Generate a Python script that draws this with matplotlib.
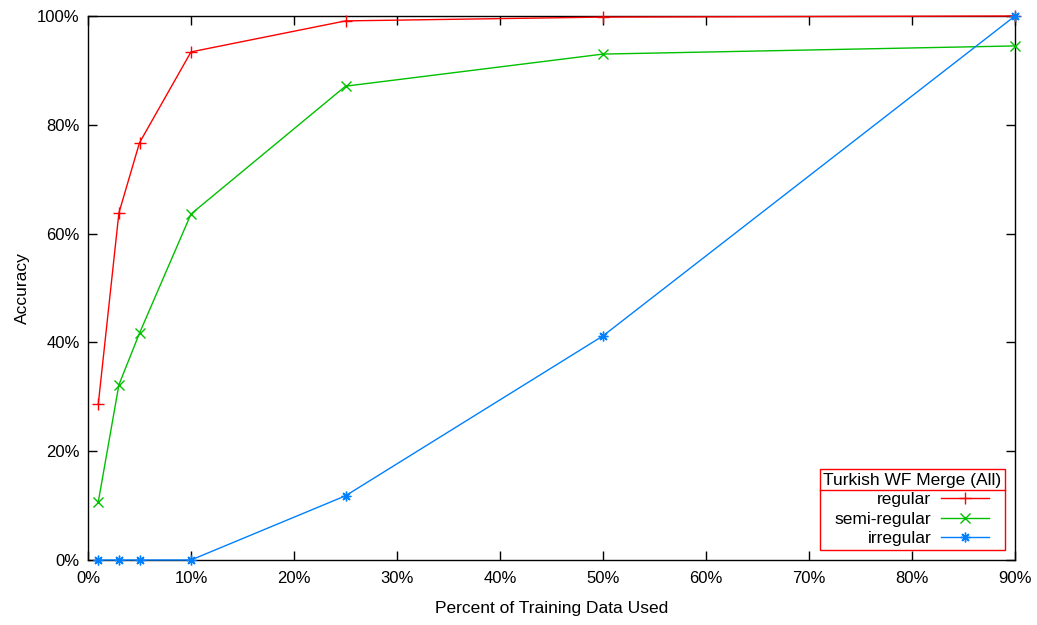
import numpy as np
import matplotlib
matplotlib.use('Agg')
import matplotlib.pyplot as plt
from matplotlib.lines import Line2D
from matplotlib.ticker import FuncFormatter

plt.rcParams['font.family'] = ['Liberation Sans', 'DejaVu Sans']

# percent of training data used
train_pct = [1, 3, 5, 10, 25, 50, 90]

regular = [28.7, 63.8, 76.7, 93.4, 99.1, 99.8, 100.0]
semi_regular = [10.7, 32.2, 41.7, 63.6, 87.1, 93.0, 94.5]
irregular = [0.0, 0.0, 0.0, 0.0, 11.8, 41.2, 100.0]

series_names = ['regular', 'semi-regular', 'irregular']
legend_title = 'Turkish WF Merge (All)'

x_ticks = [0, 10, 20, 30, 40, 50, 60, 70, 80, 90]
y_ticks = [0, 20, 40, 60, 80, 100]

fig = plt.figure(figsize=(10.37, 6.25), dpi=100)
ax = fig.add_axes([88 / 1037, 65 / 625, 927 / 1037, 544 / 625])

styles = [
	('#ff0000', '+', 8),
	('#00c000', 'x', 7),
	('#0080ff', (8, 2, 0), 7),
]

for vals, name, (col, mk, ms) in zip([regular, semi_regular, irregular], series_names, styles):
	ax.plot(train_pct, vals, color=col, marker=mk, markersize=ms, markeredgewidth=1.0,
			linewidth=1.0, label=name, clip_on=False, zorder=3)

ax.set_xlim(0, 90)
ax.set_ylim(0, 100)
ax.set_xticks(x_ticks)
ax.set_yticks(y_ticks)
pct = FuncFormatter(lambda v, p: '{0:d}%'.format(int(round(v))))
ax.xaxis.set_major_formatter(pct)
ax.yaxis.set_major_formatter(pct)

ax.tick_params(direction='in', length=6.5, width=1.0, top=True, right=True,
			   labelsize=12)
ax.tick_params(axis='x', pad=8)
ax.tick_params(axis='y', pad=6)
for s in ax.spines.values():
	s.set_linewidth(1.0)

ax.set_xlabel('Percent of Training Data Used', fontsize=12.5, labelpad=11)
ax.set_ylabel('Accuracy', fontsize=12.5, labelpad=5)

leg = ax.legend(loc='lower right', title=legend_title, markerfirst=False,
				fancybox=False, edgecolor='#ff0000', framealpha=1.0,
				fontsize=12.5, title_fontsize=12.5, borderaxespad=0.6,
				handlelength=2.8, handletextpad=0.55, labelspacing=0.25,
				borderpad=0.2)
leg.get_frame().set_linewidth(1.0)

# separator between the legend title and its entries
fig.canvas.draw()
fb = leg.get_frame().get_window_extent()
tb = leg.get_title().get_window_extent()
inv = fig.transFigure.inverted()
y_sep = inv.transform((0, tb.y0 - 2))[1]
x0 = inv.transform((fb.x0, 0))[0]
x1 = inv.transform((fb.x1, 0))[0]
fig.add_artist(Line2D([x0, x1], [y_sep, y_sep], color='#ff0000', linewidth=1.0))

plt.savefig('out.png', dpi=100)
